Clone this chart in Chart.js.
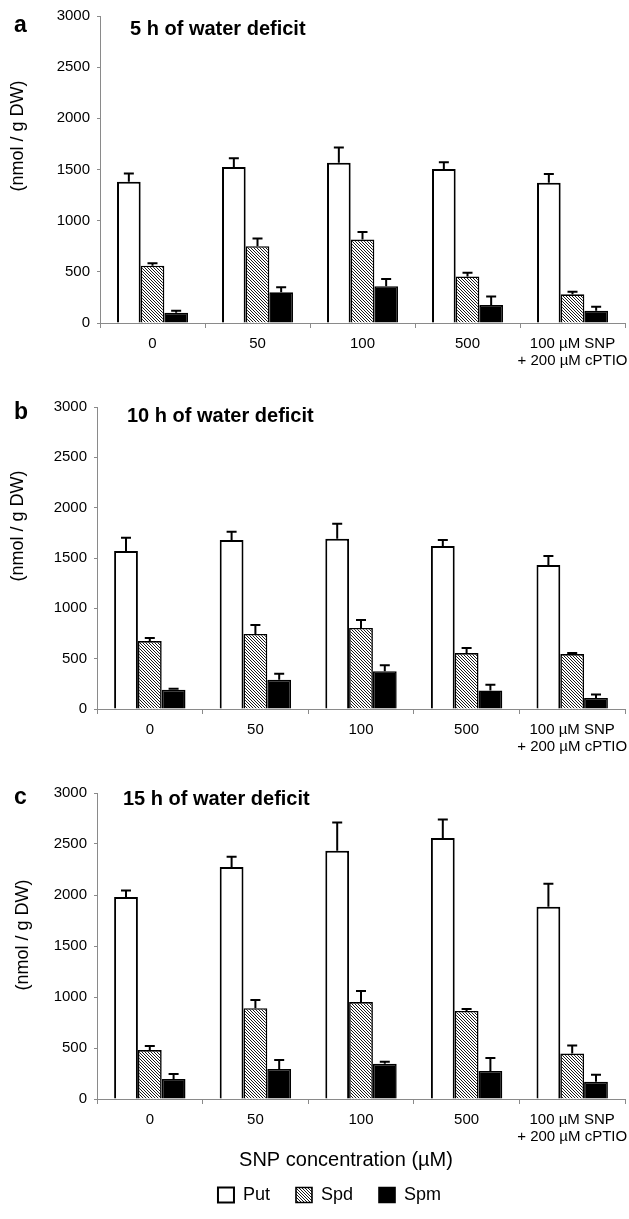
<!DOCTYPE html>
<html>
<head>
<meta charset="utf-8">
<script src="https://cdn.jsdelivr.net/npm/chart.js@4.4.1/dist/chart.umd.min.js"></script>
<style>
  body { margin: 0; background: #fff; width: 629px; height: 1219px; position: relative; overflow: hidden; }
  canvas { position: absolute; left: 0; }
</style>
</head>
<body>
<canvas id="chartA" width="629" height="380" style="top:0"></canvas>
<canvas id="chartB" width="629" height="380" style="top:380px"></canvas>
<canvas id="chartC" width="629" height="459" style="top:760px"></canvas>
<script>
// Categories and axis
const groups = ['0', '50', '100', '500', ['100 µM SNP', '+ 200 µM cPTIO']];
const seriesNames = ['Put', 'Spd', 'Spm'];
const yMin = 0;
const yMax = 3000;
const yStep = 500;
const panelTitles = ['5 h of water deficit', '10 h of water deficit', '15 h of water deficit'];
const panelLetters = ['a', 'b', 'c'];
const yTitle = '(nmol / g DW)';
const xTitle = 'SNP concentration (µM)';

// a: 5 h
const put5 = [1380, 1525, 1565, 1505, 1370];
const put5Err = [80, 85, 150, 65, 85];
const spd5 = [560, 750, 815, 455, 280];
const spd5Err = [25, 75, 75, 35, 25];
const spm5 = [100, 300, 360, 175, 120];
const spm5Err = [20, 50, 70, 85, 40];

// b: 10 h
const put10 = [1570, 1680, 1690, 1620, 1430];
const put10Err = [130, 80, 150, 60, 90];
const spd10 = [675, 745, 805, 556, 546];
const spd10Err = [30, 90, 80, 50, 10];
const spm10 = [190, 290, 375, 185, 110];
const spm10Err = [10, 60, 60, 55, 35];

// c: 15 h
const put15 = [1980, 2275, 2435, 2560, 1885];
const put15Err = [65, 100, 275, 180, 225];
const spd15 = [480, 890, 950, 863, 445];
const spd15Err = [40, 80, 108, 19, 80];
const spm15 = [195, 295, 345, 275, 168];
const spm15Err = [50, 87, 20, 127, 70];

const axisGray = '#8a8a8a';

// diagonal hatch for Spd
function hatchPattern() {
  const c = document.createElement('canvas');
  c.width = 3;
  c.height = 3;
  const g = c.getContext('2d');
  g.fillStyle = '#fff';
  g.fillRect(0, 0, 3, 3);
  g.fillStyle = '#1a1a1a';
  for (let i = 0; i < 3; i++) g.fillRect(i, i, 1, 1);
  return g.createPattern(c, 'repeat');
}

// error bars (upper whisker only) drawn from the y scale
const errorBars = {
  id: 'errorBars',
  afterDatasetsDraw(chart) {
    const ctx = chart.ctx;
    const y = chart.scales.y;
    ctx.save();
    ctx.strokeStyle = '#000';
    ctx.lineWidth = 2;
    chart.data.datasets.forEach((ds, i) => {
      const meta = chart.getDatasetMeta(i);
      meta.data.forEach((bar, j) => {
        const top = y.getPixelForValue(ds.data[j] + ds.errors[j]);
        ctx.beginPath();
        ctx.moveTo(bar.x, bar.y);
        ctx.lineTo(bar.x, top);
        ctx.moveTo(bar.x - 5, top);
        ctx.lineTo(bar.x + 5, top);
        ctx.stroke();
      });
    });
    ctx.restore();
  }
};

// panel letters, titles, axis titles
const panelText = {
  id: 'panelText',
  afterDraw(chart, args, opts) {
    const ctx = chart.ctx;
    (opts.items || []).forEach(t => {
      ctx.save();
      ctx.fillStyle = '#000';
      ctx.font = t.font;
      ctx.textAlign = t.align || 'left';
      ctx.textBaseline = t.baseline || 'alphabetic';
      ctx.translate(t.x, t.y);
      if (t.rotate) ctx.rotate(t.rotate);
      ctx.fillText(t.text, 0, 0);
      ctx.restore();
    });
  }
};

const FONT = 'Arial, "Liberation Sans", sans-serif';

function makePanel(id, p) {
  const canvas = document.getElementById(id);
  const hatch = hatchPattern();
  const items = [
    { text: p.letter, x: 14, y: p.letterY, font: 'bold 23px ' + FONT },
    { text: p.title, x: p.titleX, y: p.titleY, font: 'bold 20px ' + FONT },
    { text: yTitle, x: p.yTitleX, y: p.yTitleY, font: '18px ' + FONT,
      align: 'center', baseline: 'middle', rotate: -Math.PI / 2 }
  ];
  if (p.showX) {
    items.push({ text: xTitle, x: 346, y: p.xTitleY, font: '20px ' + FONT,
      align: 'center', baseline: 'middle' });
  }

  new Chart(canvas, {
    type: 'bar',
    data: {
      labels: groups,
      datasets: [
        {
          label: seriesNames[0],
          data: p.put,
          errors: p.putErr,
          backgroundColor: '#fff',
          borderColor: '#000',
          borderWidth: 2
        },
        {
          label: seriesNames[1],
          data: p.spd,
          errors: p.spdErr,
          backgroundColor: hatch,
          borderColor: '#000',
          borderWidth: 1.6
        },
        {
          label: seriesNames[2],
          data: p.spm,
          errors: p.spmErr,
          backgroundColor: '#000',
          borderColor: '#000',
          borderWidth: 1.6
        }
      ]
    },
    options: {
      responsive: false,
      animation: false,
      categoryPercentage: 0.676,
      barPercentage: 1.0,
      layout: {
        padding: { left: p.padLeft, right: 4, top: p.top, bottom: p.padBottom }
      },
      scales: {
        x: {
          grid: {
            offset: true,
            drawOnChartArea: false,
            drawTicks: true,
            tickLength: 5,
            color: axisGray
          },
          border: { color: axisGray, width: 1 },
          ticks: {
            color: '#000',
            font: { size: 15, family: FONT, lineHeight: 1.15 },
            padding: 7,
            maxRotation: 0,
            autoSkip: false
          },
          afterFit: scale => {
            const lg = scale.chart.legend;
            const lh = (lg && lg.options.display) ? lg.height : 0;
            scale.height = scale.chart.height - p.bottom - p.padBottom - lh;
            // let the two-line last label run to the canvas edge
            scale.paddingLeft = 0;
            scale.paddingRight = 0;
          }
        },
        y: {
          min: yMin,
          max: yMax,
          grid: {
            drawOnChartArea: false,
            drawTicks: true,
            tickLength: 3,
            color: axisGray
          },
          border: { color: axisGray, width: 1 },
          ticks: {
            stepSize: yStep,
            color: '#000',
            font: { size: 15, family: FONT },
            padding: 7,
            callback: v => String(v)
          },
          afterFit: scale => {
            scale.width = p.left - p.padLeft;
          }
        }
      },
      plugins: {
        legend: {
          display: p.showX,
          position: 'bottom',
          maxHeight: 45,
          labels: {
            color: '#000',
            font: { size: 18, family: FONT },
            boxWidth: 16,
            boxHeight: 15,
            padding: 26
          }
        },
        tooltip: { enabled: false },
        panelText: { items: items }
      }
    },
    plugins: [errorBars, panelText]
  });
}

makePanel('chartA', {
  letter: panelLetters[0], title: panelTitles[0],
  letterY: 32, titleX: 130, titleY: 35, yTitleX: 18, yTitleY: 136,
  top: 16, bottom: 323, left: 100, padLeft: 0, padBottom: 0, showX: false,
  put: put5, putErr: put5Err, spd: spd5, spdErr: spd5Err, spm: spm5, spmErr: spm5Err
});

makePanel('chartB', {
  letter: panelLetters[1], title: panelTitles[1],
  letterY: 39, titleX: 127, titleY: 42, yTitleX: 18, yTitleY: 146,
  top: 27, bottom: 329, left: 97, padLeft: 0, padBottom: 0, showX: false,
  put: put10, putErr: put10Err, spd: spd10, spdErr: spd10Err, spm: spm10, spmErr: spm10Err
});

makePanel('chartC', {
  letter: panelLetters[2], title: panelTitles[2],
  letterY: 44, titleX: 123, titleY: 45, yTitleX: 23, yTitleY: 175,
  top: 33, bottom: 339, left: 97, padLeft: 34, padBottom: 14, showX: true, xTitleY: 400,
  put: put15, putErr: put15Err, spd: spd15, spdErr: spd15Err, spm: spm15, spmErr: spm15Err
});
</script>
</body>
</html>
